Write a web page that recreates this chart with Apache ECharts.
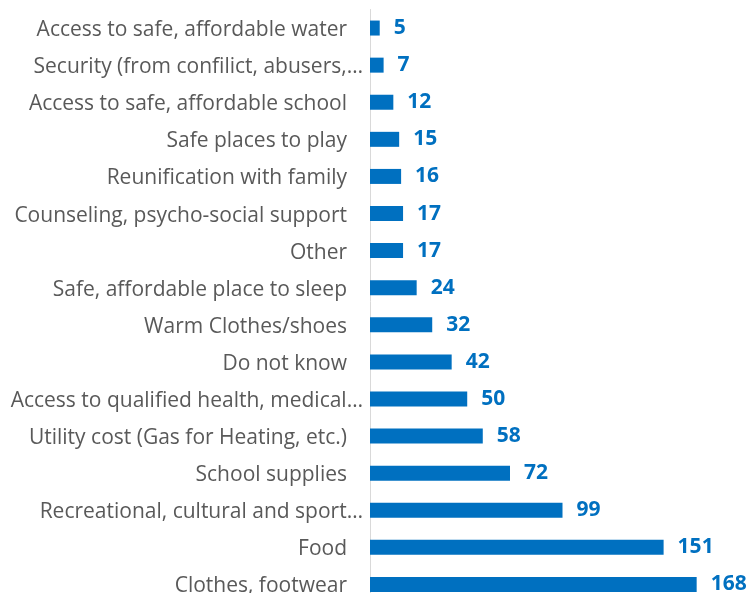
<!DOCTYPE html>
<html>
<head>
<meta charset="utf-8">
<script src="https://cdn.jsdelivr.net/npm/echarts@6/dist/echarts.min.js"></script>
<style>html,body{margin:0;padding:0;background:#fff;}#c{width:751px;height:593px;}</style>
</head>
<body>
<div id="c"></div>
<script>
const categories = [
  "Access to safe, affordable water",
  "Security (from confilict, abusers,…",
  "Access to safe, affordable school",
  "Safe places to play",
  "Reunification with family",
  "Counseling, psycho-social support",
  "Other",
  "Safe, affordable place to sleep",
  "Warm Clothes/shoes",
  "Do not know",
  "Access to qualified health, medical…",
  "Utility cost (Gas for Heating, etc.)",
  "School supplies",
  "Recreational, cultural and sport…",
  "Food",
  "Clothes, footwear"
];
const values = [5, 7, 12, 15, 16, 17, 17, 24, 32, 42, 50, 58, 72, 99, 151, 168];

const FONT = 'Open Sans';
const FS = 21;
const chart = echarts.init(document.getElementById('c'), null, {renderer: 'canvas'});
chart.setOption({
  animation: false,
  grid: {left: 370, right: 31, top: 9.5, bottom: -10, containLabel: false, outerBoundsMode: 'none'},
  xAxis: {
    type: 'value', min: 0, max: 180,
    axisLine: {show: false}, axisTick: {show: false},
    axisLabel: {show: false}, splitLine: {show: false}
  },
  yAxis: {
    type: 'category', data: categories, inverse: true,
    axisLine: {show: true, lineStyle: {color: '#d9d9d9', width: 1}},
    axisTick: {show: false},
    axisLabel: {
      margin: 7,
      color: '#595959',
      fontFamily: FONT,
      fontSize: FS,
      formatter: function (v) {
        return v.endsWith('…') ? '{t|' + v + '}' : '{n|' + v + '}';
      },
      rich: {
        n: {color: '#595959', fontFamily: FONT, fontSize: FS, padding: [4, 16, 0, 0]},
        t: {color: '#595959', fontFamily: FONT, fontSize: FS, padding: [4, 0, 0, 0]}
      }
    }
  },
  series: [{
    type: 'bar',
    data: values,
    barWidth: 15,
    itemStyle: {color: '#0070c0'},
    label: {
      show: true, position: 'right', distance: 14, padding: [4, 0, 0, 0],
      color: '#0070c0', fontWeight: 'bold', fontSize: FS, fontFamily: FONT
    }
  }]
});
</script>
</body>
</html>
